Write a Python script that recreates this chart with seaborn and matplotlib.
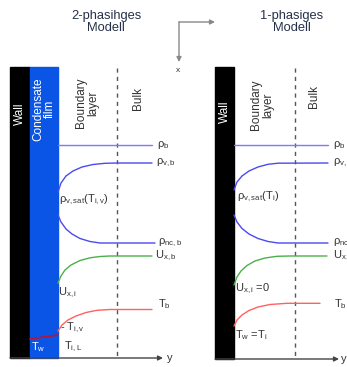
import matplotlib
matplotlib.use("Agg")
import matplotlib.pyplot as plt
import seaborn as sns
import pandas as pd
from matplotlib.patches import Rectangle, FancyArrowPatch

sns.set_theme(style="white")
plt.rcParams['font.family'] = ['Liberation Sans', 'DejaVu Sans']
plt.rcParams['mathtext.fontset'] = 'custom'
plt.rcParams['mathtext.rm'] = 'Liberation Sans'
plt.rcParams['mathtext.it'] = 'Liberation Sans'

# ---- data (profiles, pixel space) ----
titles = ["2-phasihges\nModell", "1-phasiges\nModell"]

L_rho_b_x = [58, 152];  L_rho_b_y = [145, 145]
L_rho_v_x = [58, 61, 66, 73, 82, 93, 105, 117, 152]
L_rho_v_y = [192, 183, 176, 171, 167, 164.5, 163.3, 163, 163]
L_rho_nc_x = [58, 61, 66, 72, 80, 90, 100, 155]
L_rho_nc_y = [215, 222, 229, 234, 238.5, 241.5, 243, 243]
L_u_x = [58, 61, 65, 71, 80, 90, 100, 110, 152]
L_u_y = [283, 276, 270, 265, 260.5, 257.8, 256.5, 256, 256]
L_t_x = [58, 62, 68, 76, 86, 97, 110, 152]
L_t_y = [331, 325, 320, 316, 312.5, 310.3, 309.5, 309.5]
L_tw_x = [30, 58]; L_tw_y = [339, 335]

R_rho_b_x = [234, 328]; R_rho_b_y = [145, 145]
R_rho_v_x = [234, 237, 242, 249, 258, 268, 278, 328]
R_rho_v_y = [190, 182, 176, 171, 167, 164.3, 163.2, 163]
R_rho_nc_x = [234, 237, 242, 249, 258, 268, 278, 328]
R_rho_nc_y = [215, 222, 228.5, 234, 238.5, 241.5, 243, 243]
R_u_x = [234, 237, 241, 247, 255, 265, 277, 290, 327]
R_u_y = [285, 277, 271, 265.5, 261, 258, 256.3, 256, 256]
R_t_x = [234, 237, 242, 249, 258, 270, 287, 320]
R_t_y = [326, 320, 315, 310.5, 307, 304.5, 303.3, 303.3]

W, H = 347, 367
fig = plt.figure(figsize=(W / 100, H / 100), dpi=100)
ax = fig.add_axes([0, 0, 1, 1])
ax.set_xlim(0, W)
ax.set_ylim(H, 0)
ax.axis('off')

BLUE = '#4a4af0'
BLUE_L = '#7a7aff'
GREEN = '#4caf4c'
RED = '#ff6060'
TXT = '#333333'

# walls / film
ax.add_patch(Rectangle((10, 67), 20, 291, color='black', zorder=2))
ax.add_patch(Rectangle((30, 67), 28, 291, color='#0a55e6', zorder=2))
ax.add_patch(Rectangle((215, 67), 19, 292, color='black', zorder=2))

# dashed lines
for xd in (117, 295):
    ax.plot([xd, xd], [68, 358], color='#555555', lw=1, ls=(0, (3, 3)), zorder=1)

def line(xs, ys, c, lw=1.0):
    df = pd.DataFrame({'x': xs, 'y': ys})
    sns.lineplot(data=df, x='x', y='y', ax=ax, color=c, lw=lw, sort=False,
                 estimator=None, zorder=3)

line(L_rho_b_x, L_rho_b_y, BLUE_L)
line(L_rho_v_x, L_rho_v_y, BLUE)
line(L_rho_nc_x, L_rho_nc_y, BLUE)
line(L_u_x, L_u_y, GREEN)
line(L_t_x, L_t_y, RED)
line(L_tw_x, L_tw_y, '#b0183a', lw=1.3)
line(R_rho_b_x, R_rho_b_y, BLUE_L)
line(R_rho_v_x, R_rho_v_y, BLUE)
line(R_rho_nc_x, R_rho_nc_y, BLUE)
line(R_u_x, R_u_y, GREEN)
line(R_t_x, R_t_y, RED)
ax.set_xlim(0, W); ax.set_ylim(H, 0)
ax.set_xlabel(''); ax.set_ylabel('')

# axis arrows
def arrow(x0, y0, x1, y1, c, lw=1):
    ax.add_patch(FancyArrowPatch((x0, y0), (x1, y1), arrowstyle='-|>',
                                 mutation_scale=7, color=c, lw=lw, zorder=4,
                                 shrinkA=0, shrinkB=0))
arrow(10, 358, 163, 358, '#444444')
arrow(215, 359, 339, 359, '#444444')
arrow(179, 22, 179, 62, '#888888')
arrow(179, 22, 215, 22, '#888888')
ax.text(167, 358, 'y', fontsize=8, color=TXT, va='center', ha='left')
ax.text(341, 359, 'y', fontsize=8, color=TXT, va='center', ha='left')
ax.text(178, 71, 'x', fontsize=6, color=TXT, va='center', ha='center')

# titles
ax.text(106, 22, titles[0], fontsize=9.3, color='#25304a', ha='center',
        va='center', linespacing=1.1)
ax.text(292, 22, titles[1], fontsize=9.3, color='#25304a', ha='center',
        va='center', linespacing=1.1)

# rotated labels
rt = dict(rotation=90, fontsize=8.5, ha='center', va='center', linespacing=1.0)
ax.text(20, 114, 'Wall', color='white', **rt)
ax.text(44, 109, 'Condensate\nfilm', color='white', **rt)
ax.text(87, 103, 'Boundary\nlayer', color=TXT, **rt)
ax.text(138, 98, 'Bulk', color=TXT, **rt)
ax.text(225, 112, 'Wall', color='white', **rt)
ax.text(262, 105, 'Boundary\nlayer', color=TXT, **rt)
ax.text(314, 96, 'Bulk', color=TXT, **rt)

# value labels
lab = dict(fontsize=8, color=TXT, va='center', ha='left')
ax.text(157, 145, r'ρ$_{\mathrm{b}}$', **lab)
ax.text(156, 163, r'ρ$_{\mathrm{v,b}}$', **lab)
ax.text(59, 200, r'ρ$_{\mathrm{v,sat}}$(T$_{\mathrm{i,v}}$)', **lab)
ax.text(158, 243, r'ρ$_{\mathrm{nc,b}}$', **lab)
ax.text(155, 256, r'U$_{\mathrm{x,b}}$', **lab)
ax.text(58, 293, r'U$_{\mathrm{x,i}}$', **lab)
ax.text(158, 304, r'T$_{\mathrm{b}}$', **lab)
ax.text(60, 328, r'- T$_{\mathrm{i,v}}$', **lab)
ax.text(31, 347, r'T$_{\mathrm{w}}$', fontsize=8, color='white', va='center', ha='left')
ax.text(64, 347, r'T$_{\mathrm{i,L}}$', **lab)

ax.text(333, 145, r'ρ$_{\mathrm{b}}$', **lab)
ax.text(333, 163, r'ρ$_{\mathrm{v,b}}$', **lab)
ax.text(237, 197, r'ρ$_{\mathrm{v,sat}}$(T$_{\mathrm{i}}$)', **lab)
ax.text(333, 243, r'ρ$_{\mathrm{nc,b}}$', **lab)
ax.text(333, 256, r'U$_{\mathrm{x,b}}$', **lab)
ax.text(235, 289, r'U$_{\mathrm{x,i}}$ =0', **lab)
ax.text(334, 304, r'T$_{\mathrm{b}}$', **lab)
ax.text(235, 335, r'T$_{\mathrm{w}}$ =T$_{\mathrm{i}}$', **lab)

fig.savefig('out.png', dpi=100)
